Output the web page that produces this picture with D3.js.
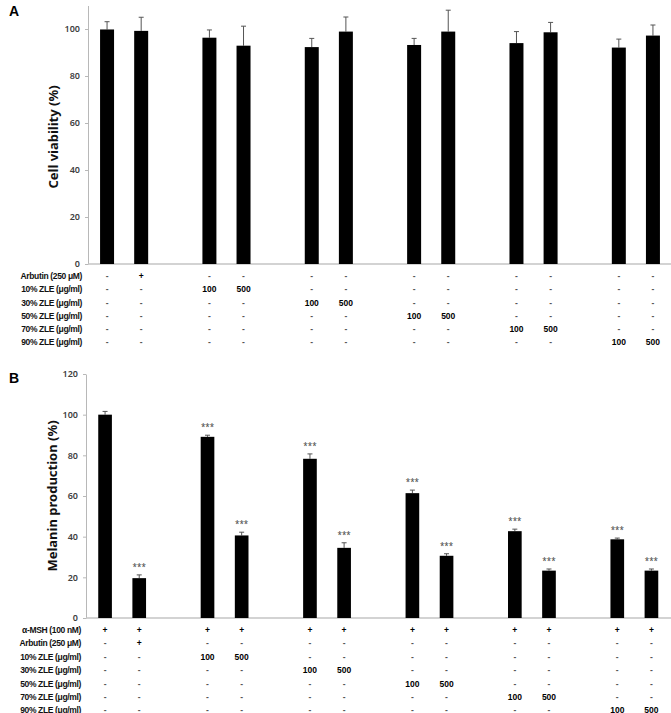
<!DOCTYPE html>
<html>
<head>
<meta charset="utf-8">
<script src="https://cdn.jsdelivr.net/npm/d3@7"></script>
<style>
	body { margin: 0; background: #fff; }
	svg text { font-family: "Liberation Sans", Arial, sans-serif; }
	.tick text { font-family: "Noto Sans", sans-serif; font-weight: 600; fill: #404040; font-size: 9px; }
	.axis-title { font-family: "Noto Sans", sans-serif; font-weight: bold; font-size: 13px; fill: #111; }
	.row-label { font-weight: bold; font-size: 8.5px; letter-spacing: -0.35px; fill: #111; }
	.cell { font-weight: bold; font-size: 8.5px; }
	.stars { font-family: "Noto Sans", sans-serif; font-size: 8px; fill: #444; }
</style>
</head>
<body>
<div id="chart"></div>
<script>
// Panel A: cell viability
const viability = [99.8, 99.2, 96.3, 92.9, 92.3, 98.9, 93.2, 98.9, 94.0, 98.6, 92.1, 97.2];
const viabilitySd = [3.3, 5.8, 3.3, 8.3, 3.7, 6.2, 2.8, 9.1, 4.9, 4.2, 3.6, 4.5];
const ticksA = [0, 20, 40, 60, 80, 100];
const rowLabelsA = ["Arbutin (250 \u03bcM)", "10% ZLE (\u03bcg/ml)", "30% ZLE (\u03bcg/ml)", "50% ZLE (\u03bcg/ml)", "70% ZLE (\u03bcg/ml)", "90% ZLE (\u03bcg/ml)"];
const tableA = [
	["-", "+", "-", "-", "-", "-", "-", "-", "-", "-", "-", "-"],
	["-", "-", "100", "500", "-", "-", "-", "-", "-", "-", "-", "-"],
	["-", "-", "-", "-", "100", "500", "-", "-", "-", "-", "-", "-"],
	["-", "-", "-", "-", "-", "-", "100", "500", "-", "-", "-", "-"],
	["-", "-", "-", "-", "-", "-", "-", "-", "100", "500", "-", "-"],
	["-", "-", "-", "-", "-", "-", "-", "-", "-", "-", "100", "500"]
];

// Panel B: melanin production
const melanin = [100, 19.6, 89.1, 40.6, 78.3, 34.5, 61.4, 30.6, 42.7, 23.3, 38.7, 23.3];
const melaninSd = [1.6, 1.6, 0.8, 1.6, 2.4, 2.5, 1.5, 1.0, 1.0, 0.8, 0.6, 0.8];
const stars = ["", "***", "***", "***", "***", "***", "***", "***", "***", "***", "***", "***"];
const ticksB = [0, 20, 40, 60, 80, 100, 120];
const rowLabelsB = ["\u03b1-MSH (100 nM)", "Arbutin (250 \u03bcM)", "10% ZLE (\u03bcg/ml)", "30% ZLE (\u03bcg/ml)", "50% ZLE (\u03bcg/ml)", "70% ZLE (\u03bcg/ml)", "90% ZLE (\u03bcg/ml)"];
const tableB = [["+", "+", "+", "+", "+", "+", "+", "+", "+", "+", "+", "+"]].concat(tableA);

const width = 671;
const height = 713;

const svg = d3.select("#chart")
	.append("svg")
	.attr("width", width)
	.attr("height", height);

// each pair of bars takes two slots, then one empty slot
const slotOf = (i) => Math.floor(i / 2) * 3 + (i % 2);

function drawPanel(cfg) {
	const g = svg.append("g");

	const x = d3.scaleBand()
		.domain(d3.range(17))
		.range(cfg.xRange)
		.paddingInner(cfg.pad)
		.paddingOuter(cfg.pad / 2);

	const y = d3.scaleLinear()
		.domain([0, cfg.yMax])
		.range(cfg.yRange);

	const yAxis = d3.axisLeft(y)
		.tickValues(cfg.ticks)
		.tickSize(3)
		.tickSizeOuter(0)
		.tickPadding(5);

	const ax = g.append("g")
		.attr("class", "y-axis")
		.attr("transform", `translate(${cfg.axisX},0)`)
		.call(yAxis);
	ax.select(".domain").attr("stroke", "#b8b8b8");
	ax.selectAll(".tick line").attr("stroke", "#b8b8b8");

	// baseline
	g.append("line")
		.attr("x1", cfg.axisX)
		.attr("x2", width)
		.attr("y1", y(0))
		.attr("y2", y(0))
		.attr("stroke", "#c4c4c4")
		.attr("stroke-width", 1.5);

	const cx = (i) => x(slotOf(i)) + x.bandwidth() / 2;

	// error bars behind the bars
	g.selectAll(".err")
		.data(cfg.values)
		.join("line")
		.attr("class", "err")
		.attr("x1", (d, i) => cx(i))
		.attr("x2", (d, i) => cx(i))
		.attr("y1", (d) => y(d))
		.attr("y2", (d, i) => y(d + cfg.sd[i]))
		.attr("stroke", "#555")
		.attr("stroke-width", 1);

	g.selectAll(".cap")
		.data(cfg.values)
		.join("line")
		.attr("class", "cap")
		.attr("x1", (d, i) => cx(i) - 2.5)
		.attr("x2", (d, i) => cx(i) + 2.5)
		.attr("y1", (d, i) => y(d + cfg.sd[i]))
		.attr("y2", (d, i) => y(d + cfg.sd[i]))
		.attr("stroke", "#555")
		.attr("stroke-width", 1);

	g.selectAll(".bar")
		.data(cfg.values)
		.join("rect")
		.attr("class", "bar")
		.attr("x", (d, i) => x(slotOf(i)))
		.attr("width", x.bandwidth())
		.attr("y", (d) => y(d))
		.attr("height", (d) => y(0) - y(d))
		.attr("fill", "#000");

	if (cfg.stars) {
		g.selectAll(".stars")
			.data(cfg.values)
			.join("text")
			.attr("class", "stars")
			.attr("x", (d, i) => cx(i))
			.attr("y", (d, i) => y(d + cfg.sd[i]) - 5)
			.attr("text-anchor", "middle")
			.text((d, i) => cfg.stars[i]);
	}

	// axis title
	g.append("text")
		.attr("class", "axis-title")
		.attr("transform", `translate(${cfg.titleX},${cfg.titleY}) rotate(-90)`)
		.attr("text-anchor", "middle")
		.attr("dy", "0.35em")
		.text(cfg.title);

	// panel letter
	g.append("text")
		.attr("x", 9)
		.attr("y", cfg.letterY)
		.attr("font-size", 14)
		.attr("font-weight", "bold")
		.attr("font-family", "Liberation Sans, Arial, sans-serif")
		.text(cfg.letter);

	// treatment table
	const rows = g.selectAll(".row")
		.data(cfg.table)
		.join("g")
		.attr("class", "row")
		.attr("transform", (d, r) => `translate(0,${cfg.tableY + r * cfg.rowStep})`);

	rows.append("text")
		.attr("class", "row-label")
		.attr("x", cfg.labelX)
		.attr("text-anchor", "end")
		.attr("dy", "0.35em")
		.text((d, r) => cfg.rowLabels[r]);

	rows.selectAll(".cell")
		.data((d) => d)
		.join("text")
		.attr("class", "cell")
		.attr("x", (d, i) => cx(i))
		.attr("text-anchor", "middle")
		.attr("dy", "0.35em")
		.style("fill", (d) => d === "-" ? "#555" : "#000")
		.text((d) => d);
}

drawPanel({
	letter: "A",
	letterY: 16,
	values: viability,
	sd: viabilitySd,
	ticks: ticksA,
	yMax: 110,
	yRange: [264, 5.5],
	xRange: [90, 670],
	pad: 0.59,
	axisX: 88,
	title: "Cell viability (%)",
	titleX: 53,
	titleY: 137,
	table: tableA,
	rowLabels: rowLabelsA,
	tableY: 276,
	rowStep: 13.3,
	labelX: 82
});

drawPanel({
	letter: "B",
	letterY: 383,
	values: melanin,
	sd: melaninSd,
	stars: stars,
	ticks: ticksB,
	yMax: 120,
	yRange: [618, 374],
	xRange: [88, 668.5],
	pad: 0.6,
	axisX: 86,
	title: "Melanin production (%)",
	titleX: 52,
	titleY: 496,
	table: tableB,
	rowLabels: rowLabelsB,
	tableY: 630,
	rowStep: 13.4,
	labelX: 81
});
</script>
</body>
</html>
